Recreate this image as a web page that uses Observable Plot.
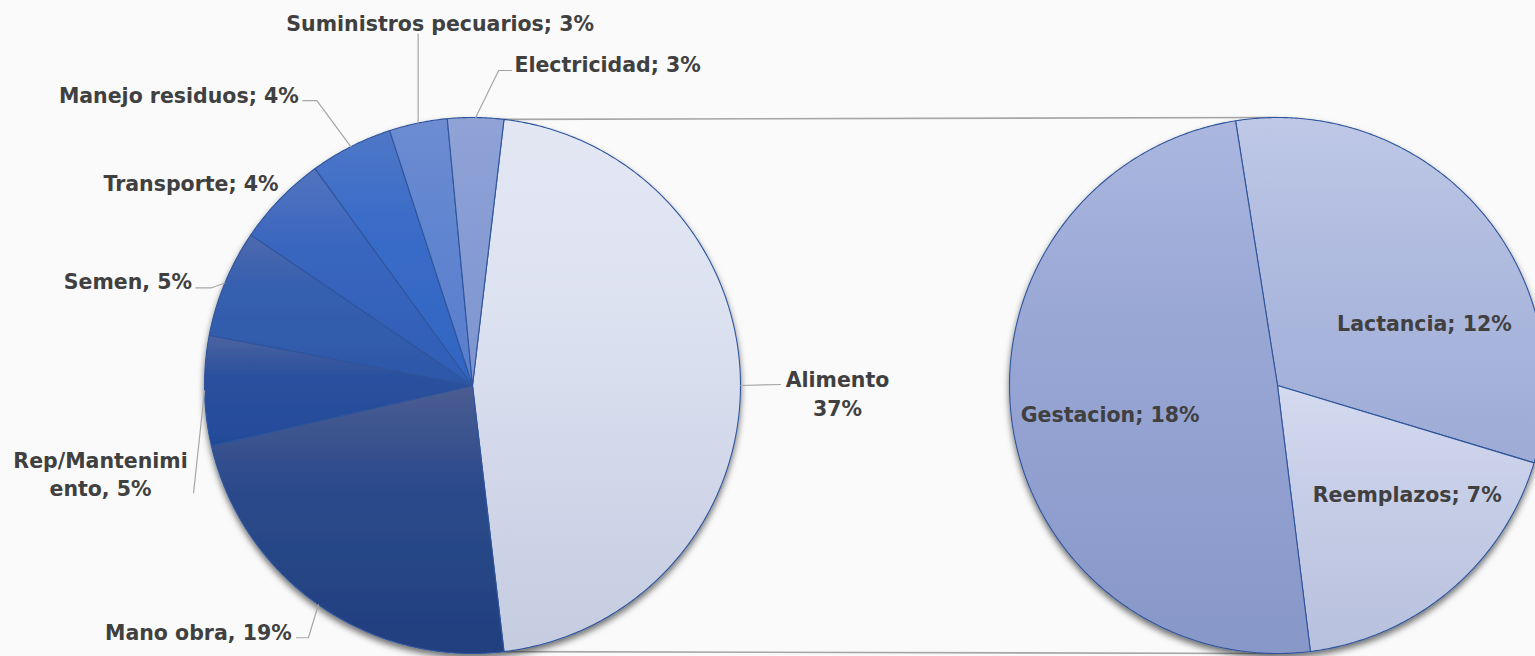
<!DOCTYPE html>
<html><head><meta charset="utf-8">
<script src="https://cdn.jsdelivr.net/npm/d3@7"></script>
<script src="https://cdn.jsdelivr.net/npm/@observablehq/plot@0.6"></script>
<style>html,body{margin:0;padding:0;background:#fafafa;overflow:hidden}</style>
</head><body><div id="chart"></div>
<script>
// ---- data ----
const mainCategories = ["Alimento","Mano obra","Rep/Mantenimiento","Semen","Transporte","Manejo residuos","Suministros pecuarios","Electricidad"];
const mainValues = [37, 18.6, 5.3, 5.2, 4.4, 4.0, 2.8, 2.7];
const mainLabels = ["Alimento\n37%","Mano obra, 19%","Rep/Mantenimi\nento, 5%","Semen, 5%","Transporte; 4%","Manejo residuos; 4%","Suministros pecuarios; 3%","Electricidad; 3%"];
const subCategories = ["Lactancia","Reemplazos","Gestacion"];
const subValues = [11.9, 6.8, 18.3];
const subLabels = ["Lactancia; 12%","Reemplazos; 7%","Gestacion; 18%"];

// ---- styles / layout ----
const mainColors = [["#e3e7f4","#dde2f1","#c5cce0"],["#4b5d91","#2d4b8c","#203f7e"],["#4c63a0","#2c519e","#234a98"],["#4d69ad","#3660b0","#2d57a8"],["#5374bf","#3a66bf","#305db5"],["#5077c7","#3a6cc8","#3165c3"],["#6d8cd1","#6286d0","#587dcd"],["#90a3d7","#889dd4","#7f95d0"]];
const subColors = [["#bfc8e6","#b1bce0","#9dabd5"],["#d4daef","#c8cfe8","#b7c0dd"],["#abb7df","#9aa8d6","#8797c8"]];
// label centre offsets (px) from the slice's outer mid point, and leader elbows
const mainLabelOffset = [[97,6.5],[-120,26],[-104,82],[-97,-3],[-89,-17],[-172,-53],[22,-101],[132,-55]];
const mainLeader = [[[40,-1]],[[-10,33],[-22,33]],[[-11,102]],[[-14,5],[-29,5]],[],[[-34,-46],[-48,-46]],[[0,-89]],[[23,-47],[36,-47]]];
const subLabelOffset = [[-55,113],[-43,-98],[98,-10]];

const W = 1535, H = 656, R = 268;
const C1 = [472,385], C2 = [1277,385];
const xDom = [-C1[0]/R, (W-C1[0])/R];
const yDom = [-(H-C1[1])/R, C1[1]/R];
const c2x = (C2[0]-C1[0])/R, c2y = -(C2[1]-C1[1])/R;

const total = d3.sum(mainValues);
const aAng = mainValues[0]/total*2*Math.PI;
const s0 = Math.PI/2 - aAng/2;
const arcsMain = d3.pie().sort(null).value(d=>d).startAngle(s0).endAngle(s0+2*Math.PI)(mainValues);
const subStart = -9*Math.PI/180;
const arcsSub = d3.pie().sort(null).value(d=>d).startAngle(subStart).endAngle(subStart+2*Math.PI)(subValues);

function slicePts(a, cx, cy, id){
  const pts=[{id,x:cx,y:cy}];
  const n=Math.max(2,Math.ceil((a.endAngle-a.startAngle)/(Math.PI/360)));
  for(let i=0;i<=n;i++){const t=a.startAngle+(a.endAngle-a.startAngle)*i/n; pts.push({id,x:cx+Math.sin(t),y:cy+Math.cos(t)});}
  return pts;
}
function edge(a,cx,cy){const m=(a.startAngle+a.endAngle)/2; return [cx+Math.sin(m), cy+Math.cos(m)];}

const slices = [];
arcsMain.forEach((a,i)=>slices.push(...slicePts(a,0,0,"m"+i)));
arcsSub.forEach((a,i)=>slices.push(...slicePts(a,c2x,c2y,"s"+i)));

const a0 = arcsMain[0];
const connectors = [
  {id:"top",x:Math.sin(a0.startAngle),y:Math.cos(a0.startAngle)},{id:"top",x:c2x,y:c2y+1},
  {id:"bot",x:Math.sin(a0.endAngle),y:Math.cos(a0.endAngle)},{id:"bot",x:c2x,y:c2y-1}
];

const labels = [], leaders = [];
arcsMain.forEach((a,i)=>{
  const [ex,ey]=edge(a,0,0);
  labels.push({x:ex+mainLabelOffset[i][0]/R, y:ey-mainLabelOffset[i][1]/R, text:mainLabels[i]});
  if(mainLeader[i].length){
    leaders.push({id:i,x:ex,y:ey});
    mainLeader[i].forEach(p=>leaders.push({id:i,x:ex+p[0]/R,y:ey-p[1]/R}));
  }
});
arcsSub.forEach((a,i)=>{
  const [ex,ey]=edge(a,c2x,c2y);
  labels.push({x:ex+subLabelOffset[i][0]/R, y:ey-subLabelOffset[i][1]/R, text:subLabels[i]});
});

const chart = Plot.plot({
  width:W, height:H, margin:0,
  x:{domain:xDom, axis:null}, y:{domain:yDom, axis:null},
  color:{type:"identity"},
  style:{background:"#fafafa", fontFamily:"'DejaVu Sans', sans-serif"},
  marks:[
    Plot.line(connectors,{x:"x",y:"y",z:"id",stroke:"#a6a6a6",strokeWidth:1.6}),
    Plot.line(slices,{x:"x",y:"y",z:"id",fill:d=>`url(#g-${d.id})`,stroke:"#2f559c",strokeWidth:1.1,curve:"linear-closed"}),
    Plot.line(leaders,{x:"x",y:"y",z:"id",stroke:"#a6a6a6",strokeWidth:1.2}),
    Plot.text(labels,{x:"x",y:"y",text:"text",fontSize:20.5,fontWeight:"bold",fill:"#404040",lineHeight:1.4})
  ]
});
document.getElementById("chart").appendChild(chart);

const svg = d3.select(chart.tagName.toLowerCase()==="svg"?chart:chart.querySelector("svg"));
const defs = svg.insert("defs",":first-child");
function grad(id,c){
  const g=defs.append("linearGradient").attr("id",id).attr("x1",0).attr("y1",0).attr("x2",0).attr("y2",1);
  g.append("stop").attr("offset","0%").attr("stop-color",c[0]);
  g.append("stop").attr("offset","35%").attr("stop-color",c[1]);
  g.append("stop").attr("offset","100%").attr("stop-color",c[2]);
}
mainColors.forEach((c,i)=>grad("g-m"+i,c));
subColors.forEach((c,i)=>grad("g-s"+i,c));
const f=defs.append("filter").attr("id","shadow").attr("x","-10%").attr("y","-10%").attr("width","120%").attr("height","125%");
f.append("feDropShadow").attr("dx",0).attr("dy",4).attr("stdDeviation",3).attr("flood-color","#000").attr("flood-opacity",0.55);
const lineGroups = svg.selectAll('g[aria-label="line"]').nodes();
if(lineGroups[1]) lineGroups[1].setAttribute("filter","url(#shadow)");
</script>
</body></html>
